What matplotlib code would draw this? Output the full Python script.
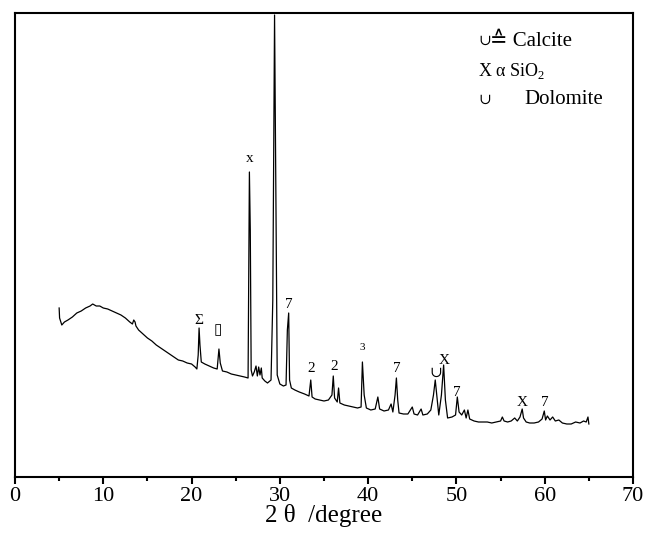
import matplotlib
matplotlib.use('Agg')
import matplotlib.pyplot as plt
from matplotlib.ticker import MultipleLocator

plt.rcParams['font.family'] = ['Liberation Serif', 'DejaVu Serif', 'DejaVu Sans']
plt.rcParams['mathtext.fontset'] = 'custom'
plt.rcParams['mathtext.rm'] = 'Liberation Serif'

# XRD pattern (2 theta, intensity in a.u.)
two_theta = [5.0, 5.05, 5.3, 5.6, 6.0, 6.5, 7.0, 7.5, 8.0, 8.5, 8.8, 9.2, 9.6, 10.0,
             10.5, 11.0, 11.5, 12.0, 12.5, 13.0, 13.3, 13.45, 13.6, 13.7, 14.0, 14.5,
             15.0, 15.5, 16.0, 16.5, 17.0, 17.5, 18.0, 18.5, 19.0, 19.5, 20.0, 20.4,
             20.6, 20.75, 20.85, 20.95, 21.1, 21.5, 22.0, 22.5, 22.9, 23.1, 23.25, 23.5,
             24.0, 24.5, 25.0, 25.5, 26.0, 26.4, 26.55, 26.65, 26.75, 26.9, 27.1, 27.3,
             27.45, 27.6, 27.75, 27.9, 28.0, 28.3, 28.6, 29.0, 29.2, 29.4, 29.55, 29.7,
             30.0, 30.4, 30.7, 30.85, 31.0, 31.1, 31.3, 31.7, 32.2, 32.8, 33.3, 33.5,
             33.65, 34.0, 34.5, 35.0, 35.5, 35.9, 36.05, 36.2, 36.5, 36.65, 36.8, 37.3,
             37.8, 38.3, 38.8, 39.2, 39.35, 39.55, 39.8, 40.3, 40.8, 41.1, 41.3, 41.8,
             42.3, 42.6, 42.8, 43.05, 43.2, 43.35, 43.5, 44.0, 44.5, 45.0, 45.2, 45.6,
             46.0, 46.2, 46.7, 47.1, 47.4, 47.6, 47.8, 48.0, 48.3, 48.55, 48.75, 49.0,
             49.5, 49.9, 50.1, 50.3, 50.6, 50.9, 51.1, 51.3, 51.5, 52.0, 52.5, 53.0,
             53.5, 54.0, 54.5, 55.0, 55.2, 55.4, 55.8, 56.2, 56.6, 56.9, 57.2, 57.45,
             57.6, 57.9, 58.3, 58.8, 59.3, 59.7, 59.95, 60.1, 60.3, 60.6, 60.9, 61.2,
             61.6, 62.0, 62.5, 63.0, 63.5, 64.0, 64.4, 64.7, 64.9, 65.0]
intensity = [1690, 1590, 1520, 1550, 1570, 1600, 1640, 1660, 1690, 1710, 1730, 1710, 1710, 1690,
             1680, 1660, 1640, 1620, 1590, 1550, 1530, 1570, 1550, 1510, 1470, 1430,
             1390, 1360, 1320, 1290, 1260, 1230, 1200, 1170, 1160, 1140, 1130, 1100,
             1080, 1220, 1490, 1320, 1150, 1130, 1110, 1090, 1080, 1280, 1140, 1060,
             1050, 1030, 1020, 1010, 1000, 990, 3050, 2470, 1070, 1010, 1050, 1110,
             1010, 1100, 1020, 1090, 990, 960, 940, 970, 1770, 4620, 2770, 1020,
             930, 910, 920, 1470, 1640, 970, 890, 870, 850, 830, 810, 970,
             800, 780, 770, 760, 770, 820, 1010, 790, 750, 890, 740, 720,
             710, 700, 690, 700, 1150, 820, 690, 670, 680, 800, 680, 660,
             670, 730, 650, 820, 990, 770, 640, 630, 630, 700, 630, 620,
             680, 620, 630, 670, 820, 970, 790, 620, 820, 1120, 770, 590,
             600, 620, 800, 650, 620, 670, 590, 670, 580, 560, 550, 550,
             550, 540, 550, 560, 600, 560, 550, 560, 590, 560, 600, 680,
             590, 550, 540, 540, 550, 580, 660, 570, 610, 570, 600, 560,
             570, 540, 530, 530, 550, 540, 560, 550, 600, 530]

# peak markers: (2 theta, height, symbol)
peak_pos = [20.85, 23.0, 26.6, 31.0, 33.6, 36.1, 39.3, 43.2, 47.7, 48.6, 50.0, 57.5, 60.0]
peak_h = [1560, 1460, 3190, 1720, 1080, 1110, 1300, 1080, 1040, 1160, 850, 750, 740]
peak_sym = ['Σ', '▯', 'x', '7', '2', '2', '3', '7', '∪', 'X', '7', 'X', '7']

fig = plt.figure(figsize=(6.45, 5.4), dpi=100)
ax = fig.add_axes([15 / 645, 63 / 540, 618 / 645, 464 / 540])

ax.plot(two_theta, intensity, color='black', lw=0.9)

for xp, hp, s in zip(peak_pos, peak_h, peak_sym):
    fs = 8 if s == '3' else 11
    ax.text(xp, hp, s, ha='center', va='center', fontsize=fs, color='black')

ax.set_xlim(0, 70)
ax.set_ylim(0, 4640)
ax.set_yticks([])
ax.xaxis.set_major_locator(MultipleLocator(10))
ax.xaxis.set_minor_locator(MultipleLocator(5))
ax.tick_params(axis='x', which='major', direction='out', length=5, width=1.5,
               labelsize=16, pad=2)
ax.tick_params(axis='x', which='minor', direction='out', length=3, width=1.5)
for sp in ax.spines.values():
    sp.set_linewidth(1.5)
ax.set_xlabel('2 θ  /degree', fontsize=18, labelpad=-1)

# legend written as plain text in the top right corner
fig.text(478 / 645, 1 - 41 / 540, '∪', fontsize=11, va='center', ha='left')
fig.text(490 / 645, 1 - 41 / 540, '≙ Calcite', fontsize=15, va='center', ha='left')
fig.text(478 / 645, 1 - 71 / 540, r'X α SiO$_2$', fontsize=13, va='center', ha='left')
fig.text(478 / 645, 1 - 100 / 540, '∪', fontsize=11, va='center', ha='left')
fig.text(524 / 645, 1 - 100 / 540, 'Dolomite', fontsize=15, va='center', ha='left')

fig.savefig('out.png', dpi=100)
